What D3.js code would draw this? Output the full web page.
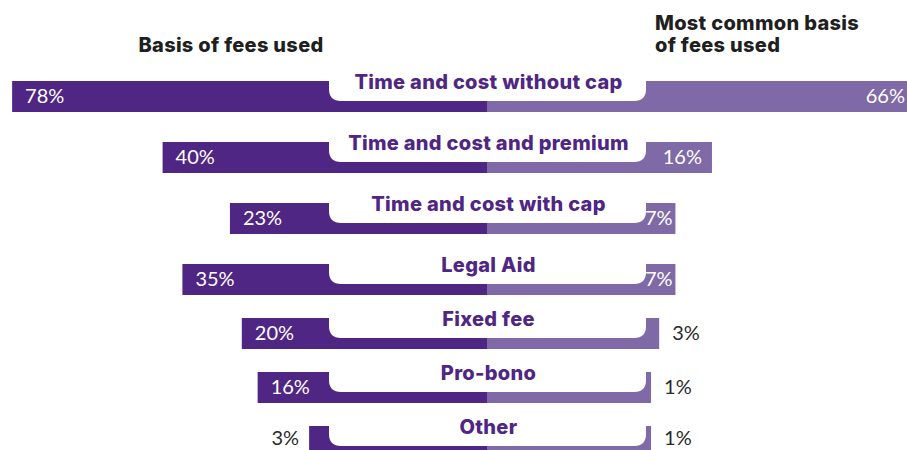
<!DOCTYPE html>
<html>
<head>
<meta charset="utf-8">
<script src="https://cdn.jsdelivr.net/npm/d3@7/dist/d3.min.js"></script>
<style>
  html, body { margin: 0; padding: 0; background: #fff; }
  svg { display: block; }
</style>
</head>
<body>
<div id="chart"></div>
<script>
// Fee basis categories, top to bottom
const categories = [
  "Time and cost without cap",
  "Time and cost and premium",
  "Time and cost with cap",
  "Legal Aid",
  "Fixed fee",
  "Pro-bono",
  "Other"
];
// Share of respondents using each basis (left side)
const basisUsed = [78, 40, 23, 35, 20, 16, 3];
// Share naming it as the most common basis (right side)
const mostCommon = [66, 16, 7, 7, 3, 1, 1];

const leftTitle = ["Basis of fees used"];
const rightTitle = ["Most common basis", "of fees used"];

const W = 907, H = 450;
const center = 487;
const barH = 31;
const boxLeft = 329, boxRight = 646, boxRadius = 12;

const colDark = "#4f2683";
const colLight = "#8069a7";
const colText = "#4f2683";
const colOut = "#2a2a2a";

const svg = d3.select("#chart").append("svg")
  .attr("width", W).attr("height", H);

// Row positions: rows below "Legal Aid" sit a little closer together
const y = d3.scaleLinear().domain([0, 3, 6]).range([81, 264, 426]);
// Bars grow outward from the edges of the label plate
const xLeft = d3.scaleLinear().domain([0, 100]).range([321, 321 - 396]);
const xRight = d3.scaleLinear().domain([0, 100]).range([647, 647 + 406]);

const fontBold = "Inter, 'Open Sans', sans-serif";

// Titles
svg.append("text")
  .attr("x", 231).attr("y", 52)
  .attr("text-anchor", "middle")
  .attr("font-family", fontBold).attr("font-weight", 800)
  .attr("font-size", 20).attr("letter-spacing", 0.3).attr("fill", "#1f1f1f")
  .text(leftTitle[0]);

svg.append("text")
  .attr("x", 655).attr("y", 30)
  .attr("font-family", fontBold).attr("font-weight", 800)
  .attr("font-size", 20).attr("letter-spacing", 0.3).attr("fill", "#1f1f1f")
  .selectAll("tspan").data(rightTitle).join("tspan")
  .attr("x", 655).attr("dy", (d, i) => i ? 22 : 0)
  .text(d => d);

const rows = svg.append("g").selectAll("g")
  .data(categories.map((c, i) => ({ c, i, l: basisUsed[i], r: mostCommon[i] })))
  .join("g")
  .attr("transform", d => `translate(0,${y(d.i)})`);

// Left bars
rows.append("rect")
  .attr("x", d => xLeft(d.l))
  .attr("y", 0)
  .attr("width", d => center - xLeft(d.l))
  .attr("height", barH)
  .attr("fill", colDark);

// Right bars
rows.append("rect")
  .attr("x", center)
  .attr("y", 0)
  .attr("width", d => xRight(d.r) - center)
  .attr("height", barH)
  .attr("fill", colLight);

// White label plate with rounded lower corners
const plateBottom = barH - 11;
rows.append("path")
  .attr("fill", "#fff")
  .attr("d", () => {
    const t = -14, b = plateBottom, r = boxRadius;
    return `M${boxLeft},${t} H${boxRight} V${b - r} Q${boxRight},${b} ${boxRight - r},${b}` +
           ` H${boxLeft + r} Q${boxLeft},${b} ${boxLeft},${b - r} Z`;
  });

// Category names
rows.append("text")
  .attr("x", (boxLeft + boxRight) / 2 + 1)
  .attr("y", 8)
  .attr("text-anchor", "middle")
  .attr("font-family", fontBold).attr("font-weight", 800)
  .attr("font-size", 20).attr("letter-spacing", 0.3).attr("fill", colText)
  .text(d => d.c);

const valueFont = "Lato, 'Open Sans', sans-serif";
const valueSize = 20;
// Baseline of a value label, kept clear of the bottom edge
const valueBaseline = d => Math.min(barH / 2 + valueSize * 0.34, H - 5 - y(d.i));

// Left value labels
rows.append("text")
  .attr("y", valueBaseline)
  .attr("font-family", valueFont).attr("font-weight", 400)
  .attr("font-size", valueSize)
  .text(d => d.l + "%")
  .each(function (d) {
    const w = this.getComputedTextLength();
    const x0 = xLeft(d.l);
    const sel = d3.select(this);
    if (boxLeft - x0 >= w + 14) {
      sel.attr("x", x0 + 13).attr("text-anchor", "start").attr("fill", "#fff");
    } else {
      sel.attr("x", x0 - 10).attr("text-anchor", "end").attr("fill", colOut);
    }
  });

// Right value labels
rows.append("text")
  .attr("y", valueBaseline)
  .attr("font-family", valueFont).attr("font-weight", 400)
  .attr("font-size", valueSize)
  .text(d => d.r + "%")
  .each(function (d) {
    const w = this.getComputedTextLength();
    const x1 = xRight(d.r);
    const sel = d3.select(this);
    if (x1 - boxRight >= w) {
      let end = x1 - 10;
      if (end - w < boxRight - 1) end = Math.min(x1 - 1, boxRight - 1 + w);
      sel.attr("x", end).attr("text-anchor", "end").attr("fill", "#fff");
    } else {
      sel.attr("x", x1 + 13).attr("text-anchor", "start").attr("fill", colOut);
    }
  });
</script>
</body>
</html>
